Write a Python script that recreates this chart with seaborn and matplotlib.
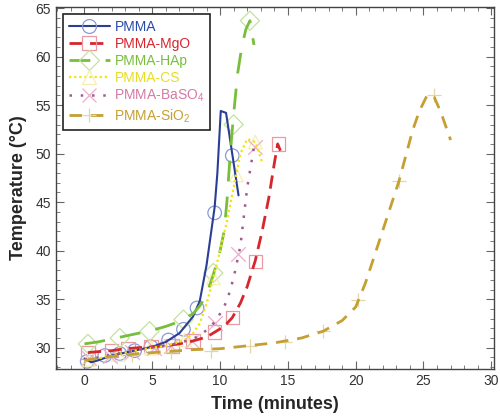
import matplotlib
matplotlib.use("Agg")
import matplotlib.pyplot as plt
from matplotlib.lines import Line2D
from matplotlib.ticker import MultipleLocator
import seaborn as sns

# ---- data ----
pmma_t = [0, 0.5, 1, 2, 3, 4, 5, 6, 7, 8, 8.5, 9, 9.3, 9.6, 9.8, 10.05, 10.44, 11.36]
pmma_T = [28.9, 28.5, 28.7, 29.2, 29.5, 29.8, 30.1, 30.6, 31.5, 33.2, 34.8, 38.5, 41.5, 44.5, 48.0, 54.4, 54.2, 45.7]
pmma_mt = [0.2, 1.5, 2.6, 3.7, 4.9, 6.2, 7.3, 8.3, 9.6, 10.9]
pmma_mT = [28.6, 29.2, 29.4, 29.7, 30.1, 30.8, 31.9, 34.1, 43.9, 49.8]

mgo_t = [0.25, 1, 2, 3, 4, 5, 6, 7, 8, 9, 9.6, 10.3, 10.9, 11.5, 12, 12.6, 13.1, 13.6, 14.0, 14.25, 14.45]
mgo_T = [29.5, 29.6, 29.7, 29.9, 30.0, 30.1, 30.2, 30.4, 30.7, 31.1, 31.6, 32.2, 33.1, 34.6, 36.3, 39.0, 42.0, 45.5, 49.0, 51.0, 50.3]
mgo_mt = [0.25, 2.0, 3.2, 4.9, 6.5, 8.0, 9.6, 10.9, 12.6, 14.3]
mgo_mT = [29.5, 29.7, 29.9, 30.1, 30.2, 30.7, 31.6, 33.1, 38.9, 51.0]

hap_t = [0, 1, 2, 3, 4, 5, 6, 7, 8, 8.5, 9, 9.5, 10, 10.3, 10.5, 10.7, 10.9, 11.1, 11.3, 11.6, 11.9, 12.2, 12.5]
hap_T = [30.4, 30.6, 30.9, 31.2, 31.5, 31.8, 32.2, 32.7, 33.5, 34.3, 35.5, 37.5, 40.0, 42.0, 45.0, 49.0, 52.5, 55.5, 58.3, 61.0, 62.8, 63.7, 61.2]
hap_mt = [0.25, 2.6, 4.8, 7.3, 9.5, 11.0, 12.2]
hap_mT = [30.4, 31.0, 31.7, 32.9, 37.7, 53.0, 63.7]

cs_t = [0, 1, 2, 3, 4, 5, 6, 7, 7.5, 8, 8.5, 9, 9.5, 10, 10.5, 11, 11.5, 12, 12.6, 13.1]
cs_T = [28.7, 28.9, 29.2, 29.5, 29.8, 30.0, 30.2, 30.6, 30.9, 31.5, 32.5, 34.5, 37.2, 40.0, 43.0, 46.5, 50.0, 51.5, 51.2, 49.1]
cs_mt = [0.3, 2.5, 4.9, 7.4, 9.5, 11.2, 12.6]
cs_mT = [28.8, 29.3, 30.0, 30.8, 37.2, 47.8, 51.2]

baso4_t = [0, 1, 2, 3, 4, 5, 6, 7, 8, 8.5, 9, 9.5, 10, 10.5, 11, 11.5, 12, 12.5, 12.8]
baso4_T = [28.8, 29.0, 29.3, 29.5, 29.8, 30.0, 30.2, 30.5, 30.9, 31.3, 31.8, 32.5, 33.5, 34.8, 37.2, 40.5, 46.5, 50.7, 50.3]
baso4_mt = [0.3, 1.9, 3.5, 5.1, 6.4, 7.9, 9.6, 11.3, 12.6]
baso4_mT = [28.9, 29.2, 29.6, 30.0, 30.2, 30.7, 32.5, 39.7, 50.7]

sio2_t = [0, 1, 2, 4, 6, 8, 10, 12, 14, 16, 17.6, 19, 20, 20.7, 21.2, 22, 23.2, 24.2, 24.7, 25.3, 25.8, 26.3, 27.0]
sio2_T = [28.7, 28.9, 29.1, 29.4, 29.6, 29.8, 29.9, 30.2, 30.5, 31.0, 31.7, 32.8, 34.2, 36.6, 38.7, 42.1, 47.2, 52.4, 54.4, 56.1, 55.8, 54.2, 51.4]
sio2_mt = [0.6, 3.5, 6.4, 9.3, 12.2, 14.8, 17.6, 20.2, 23.2, 25.8]
sio2_mT = [28.8, 29.3, 29.6, 29.7, 30.2, 30.6, 31.7, 34.9, 47.2, 56.0]

labels = ["PMMA", "PMMA-MgO", "PMMA-HAp", "PMMA-CS", "PMMA-BaSO$_4$", "PMMA-SiO$_2$"]

series = [
    (pmma_t, pmma_T, pmma_mt, pmma_mT),
    (mgo_t, mgo_T, mgo_mt, mgo_mT),
    (hap_t, hap_T, hap_mt, hap_mT),
    (cs_t, cs_T, cs_mt, cs_mT),
    (baso4_t, baso4_T, baso4_mt, baso4_mT),
    (sio2_t, sio2_T, sio2_mt, sio2_mT),
]

# ---- styles ----
line_colors = ["#2a3e94", "#d6262e", "#78be3c", "#f2e30f", "#9d5b93", "#c4a032"]
marker_colors = ["#8a9ad6", "#eb9aa2", "#c4e2a2", "#f5efb0", "#ebb0ca", "#e4d6a6"]
text_colors = ["#2a4aa8", "#d6262e", "#78be3c", "#e8de20", "#d57aa6", "#c4a032"]
line_styles = ["-", (0, (4.8, 2.6)), (0, (7.5, 5.5)), (0, (1, 1.3)), (0, (1, 3.5)), (0, (4.5, 3.2))]
line_widths = [1.5, 2.0, 2.0, 1.6, 1.8, 2.0]
markers = ["o", "s", "D", "^", "x", "+"]

sns.set_style("ticks")
plt.rcParams["font.family"] = ["Liberation Sans", "DejaVu Sans"]
plt.rcParams["mathtext.fontset"] = "custom"
plt.rcParams["mathtext.rm"] = "Liberation Sans"

fig, ax = plt.subplots(figsize=(5.0, 4.18), dpi=100)
fig.subplots_adjust(left=0.112, right=0.988, bottom=0.117, top=0.983)

for i, (t, T, mt, mT) in enumerate(series):
    if markers[i] in ("x", "+"):
        sns.scatterplot(x=mt, y=mT, ax=ax, marker=markers[i], s=110,
                        color=marker_colors[i], linewidth=0.9, legend=False, zorder=2)
    else:
        sns.scatterplot(x=mt, y=mT, ax=ax, marker=markers[i], s=95,
                        facecolor="none", edgecolor=marker_colors[i], linewidth=0.9,
                        legend=False, zorder=2)
    sns.lineplot(x=t, y=T, ax=ax, color=line_colors[i], linestyle=line_styles[i],
                 linewidth=line_widths[i], sort=False, estimator=None, legend=False,
                 zorder=3)

handles = []
for i in range(len(labels)):
    handles.append(Line2D([], [], color=line_colors[i], linestyle=line_styles[i],
                          linewidth=line_widths[i], marker=markers[i], markersize=10,
                          markerfacecolor="none", markeredgecolor=marker_colors[i],
                          markeredgewidth=0.9))
leg = ax.legend(handles, labels, loc="upper left", bbox_to_anchor=(0.016, 0.981),
                borderaxespad=0, fontsize=10, labelcolor=text_colors,
                handlelength=3.0, handletextpad=0.3, labelspacing=0.22,
                borderpad=0.4, fancybox=False, framealpha=1, edgecolor="#222222")
leg.get_frame().set_linewidth(1.2)

ax.set_xlim(-2.1, 30.2)
ax.set_ylim(27.8, 65.1)
ax.xaxis.set_major_locator(MultipleLocator(5))
ax.xaxis.set_minor_locator(MultipleLocator(1))
ax.yaxis.set_major_locator(MultipleLocator(5))
ax.yaxis.set_minor_locator(MultipleLocator(1))
ax.tick_params(which="both", direction="in", top=True, right=True,
               colors="#666666", labelcolor="#333333", labelsize=10)
ax.tick_params(which="major", length=6, width=0.8)
ax.tick_params(which="minor", length=3, width=0.6)
for sp in ax.spines.values():
    sp.set_color("#444444")
    sp.set_linewidth(1.0)

ax.set_xlabel("Time (minutes)", fontsize=13, fontweight="bold", labelpad=6)
ax.set_ylabel("Temperature (\u00b0C)", fontsize=13, fontweight="bold", labelpad=6)

fig.savefig("out.png", dpi=100)
